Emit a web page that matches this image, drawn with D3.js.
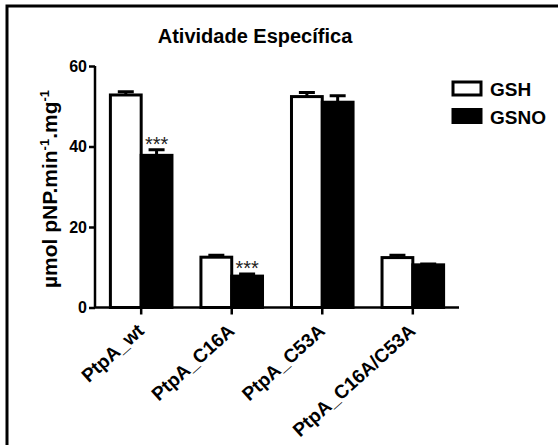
<!DOCTYPE html>
<html><head><meta charset="utf-8">
<script src="https://cdn.jsdelivr.net/npm/d3@7"></script>
<style>html,body{margin:0;padding:0;background:#fff;}svg{display:block;}</style>
</head><body>
<script>
const categories = ["PtpA_wt","PtpA_C16A","PtpA_C53A","PtpA_C16A/C53A"];
const series = ["GSH","GSNO"];
const gshValues = [52.8, 12.5, 52.4, 12.4];
const gshErrors = [0.8, 0.5, 1.0, 0.6];
const gsnoValues = [37.8, 7.8, 51.0, 10.6];
const gsnoErrors = [1.4, 0.5, 1.6, 0.2];
const significance = ["***", "***", "", ""];
const yTicks = [0, 20, 40, 60];
const fills = {GSH: "#ffffff", GSNO: "#000000"};

const W = 558, H = 445;
const font = "'Liberation Sans', Arial, sans-serif";
const svg = d3.select("body").append("svg").attr("width", W).attr("height", H);

// frame
svg.append("rect").attr("x", 7).attr("y", 6).attr("width", 600).attr("height", 500)
  .attr("fill", "none").attr("stroke", "#000").attr("stroke-width", 3);

const y = d3.scaleLinear().domain([0, 60]).range([307.5, 66]);
const x = d3.scaleBand().domain(categories).range([95, 459]).paddingInner(0.32).paddingOuter(0.17);
const xs = d3.scaleBand().domain(series).range([0, x.bandwidth()]);

const rows = categories.map((c, i) => ({
  cat: c,
  vals: [
    {s: "GSH", v: gshValues[i], e: gshErrors[i]},
    {s: "GSNO", v: gsnoValues[i], e: gsnoErrors[i]}
  ],
  sig: significance[i]
}));

// title
svg.append("text").attr("x", 255).attr("y", 43).attr("text-anchor", "middle")
  .style("font-family", font).style("font-weight", "bold").style("font-size", "20px")
  .text("Atividade Específica");

const g = svg.selectAll("g.grp").data(rows).join("g").attr("class", "grp")
  .attr("transform", d => `translate(${x(d.cat)},0)`);

// error bars
g.selectAll("path.err").data(d => d.vals).join("path").attr("class", "err")
  .attr("d", d => {
    const cx = xs(d.s) + xs.bandwidth() / 2;
    return `M${cx},${y(d.v)}V${y(d.v + d.e)}M${cx - 8},${y(d.v + d.e)}H${cx + 8}`;
  })
  .attr("stroke", "#000").attr("stroke-width", 3).attr("fill", "none");

// bars
g.selectAll("rect.bar").data(d => d.vals).join("rect").attr("class", "bar")
  .attr("x", d => xs(d.s)).attr("width", xs.bandwidth())
  .attr("y", d => y(d.v)).attr("height", d => y(0) - y(d.v))
  .attr("fill", d => fills[d.s]).attr("stroke", "#000").attr("stroke-width", 3);

// significance
g.filter(d => d.sig).append("text")
  .attr("x", xs("GSNO") + xs.bandwidth() / 2)
  .attr("y", d => y(d.vals[1].v + d.vals[1].e) + 1)
  .attr("text-anchor", "middle")
  .style("font-family", font).style("font-size", "20px").attr("fill", "#222")
  .text(d => d.sig);

// axes
const yAxis = svg.append("g").attr("transform", "translate(95,0)")
  .call(d3.axisLeft(y).tickValues(yTicks).tickSize(6).tickSizeOuter(0).tickPadding(2));
const xAxis = svg.append("g").attr("transform", `translate(0,${y(0)})`)
  .call(d3.axisBottom(x).tickSize(7).tickSizeOuter(0).tickFormat(d => d));
[yAxis, xAxis].forEach(a => {
  a.select(".domain").attr("stroke", "#000").attr("stroke-width", 2.5);
  a.selectAll(".tick line").attr("stroke", "#000").attr("stroke-width", 2.5);
  a.selectAll("text").style("font-family", font).style("font-weight", "bold")
    .style("font-size", "16px").attr("fill", "#000");
});
xAxis.select(".domain").attr("d", "M95,0H459");
yAxis.select(".domain").attr("d", `M0,${y(60)}V${y(0)}`);
xAxis.selectAll(".tick text")
  .style("font-size", "19px")
  .attr("text-anchor", "end").attr("dy", 0).attr("y", 0).attr("x", 0)
  .attr("transform", "translate(4,25) rotate(-42)");

// y label
const yl = svg.append("text").attr("transform", "translate(57,189) rotate(-90)")
  .attr("text-anchor", "middle")
  .style("font-family", font).style("font-weight", "bold").style("font-size", "21px");
yl.append("tspan").text("µmol pNP.min");
yl.append("tspan").attr("dy", -8).style("font-size", "13px").text("-1");
yl.append("tspan").attr("dy", 8).text(".mg");
yl.append("tspan").attr("dy", -8).style("font-size", "13px").text("-1");

// legend
const leg = svg.selectAll("g.leg").data(series).join("g").attr("class", "leg")
  .attr("transform", (d, i) => `translate(453,${82 + i * 27.5})`);
leg.append("rect").attr("width", 28).attr("height", 13)
  .attr("fill", d => fills[d]).attr("stroke", "#000").attr("stroke-width", 3);
leg.append("text").attr("x", 37).attr("y", 14)
  .style("font-family", font).style("font-weight", "bold").style("font-size", "19px")
  .text(d => d);
</script>
</body></html>
